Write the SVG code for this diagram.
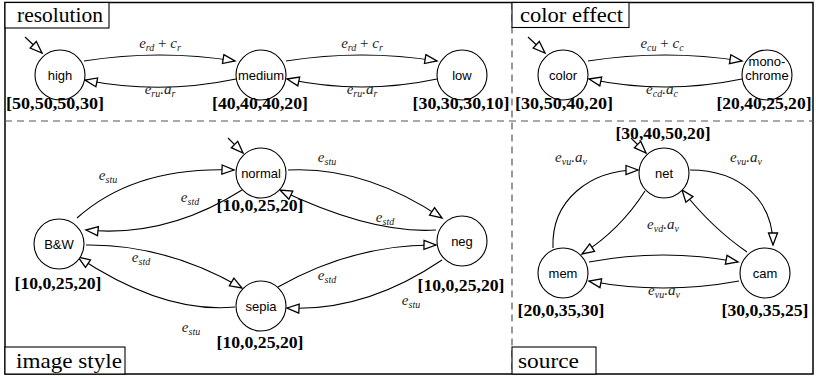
<svg xmlns="http://www.w3.org/2000/svg" width="816" height="378" viewBox="0 0 816 378">
<style>
.node{fill:#fff;stroke:#000;stroke-width:1.1}
.nt{font-family:"Liberation Sans","DejaVu Sans",sans-serif;font-size:13px;text-anchor:middle;fill:#000}
.val{font-family:"Liberation Serif","DejaVu Serif",serif;font-size:17px;font-weight:bold;text-anchor:middle;fill:#000}
.edge{fill:none;stroke:#000;stroke-width:1.1;marker-end:url(#arr)}
.lbl{font-family:"Liberation Serif","DejaVu Serif",serif;font-size:15px;font-style:italic;text-anchor:middle;fill:#222}
.s{font-size:10px}
.title{font-family:"Liberation Serif","DejaVu Serif",serif;font-size:21px;fill:#000}
.tbox{fill:#fff;stroke:#000;stroke-width:1.1}
.dash{stroke:#555;stroke-width:1.2;stroke-dasharray:7,5;fill:none}
</style>
<defs>
<marker id="arr" markerUnits="userSpaceOnUse" markerWidth="14" markerHeight="11" refX="12" refY="4.5" orient="auto" overflow="visible">
<path d="M0,0 L12,4.5 L0,9 Z" fill="#fff" stroke="#000" stroke-width="1.3"/>
</marker>
</defs>
<rect x="0" y="0" width="816" height="378" fill="#fff"/>
<rect x="5" y="2.5" width="808" height="371.5" fill="none" stroke="#000" stroke-width="1.5"/>
<line class="dash" x1="5" y1="121" x2="813" y2="121"/>
<line class="dash" x1="512" y1="2.5" x2="512" y2="374"/>

<g id="title-resolution"><rect class="tbox" x="5" y="2.5" width="104" height="25.5"/><text class="title" x="17" y="22" textLength="86" lengthAdjust="spacingAndGlyphs">resolution</text></g>
<g id="title-color"><rect class="tbox" x="512" y="2.5" width="117" height="25"/><text class="title" x="520" y="22" textLength="103" lengthAdjust="spacingAndGlyphs">color effect</text></g>
<g id="title-style"><rect class="tbox" x="5" y="347" width="120" height="27"/><text class="title" x="16" y="368" textLength="106" lengthAdjust="spacingAndGlyphs">image style</text></g>
<g id="title-source"><rect class="tbox" x="512" y="347" width="84" height="27"/><text class="title" x="518" y="368" textLength="61" lengthAdjust="spacingAndGlyphs">source</text></g>

<g id="connectors">
<line class="edge" x1="25" y1="37" x2="42" y2="53"/>
<line class="edge" x1="528" y1="37" x2="545" y2="53"/>
<line class="edge" x1="228" y1="138" x2="243" y2="153"/>
<line class="edge" x1="631" y1="138" x2="646" y2="153"/>
<path class="edge" d="M84,61 Q160,49 235,61"/>
<path class="edge" d="M236,79 Q160,95 85,80"/>
<path class="edge" d="M286,61 Q362,49 437,61"/>
<path class="edge" d="M437,79 Q362,95 287,79"/>
<path class="edge" d="M588,61 Q665,49 742,61"/>
<path class="edge" d="M742,79 Q665,95 589,79"/>
<path class="edge" d="M77,218 Q135,166 234,170"/>
<path class="edge" d="M242,190 Q166,238 86,230"/>
<path class="edge" d="M288,170 Q365,166 442,218"/>
<path class="edge" d="M436,230 Q372,234 280,190"/>
<path class="edge" d="M86,245 Q166,244 242,288"/>
<path class="edge" d="M235,307 Q164,314 78,257"/>
<path class="edge" d="M278,287 Q354,244 436,245"/>
<path class="edge" d="M442,260 Q365,312 287,308"/>
<path class="edge" d="M553,248 C551,200 590,170 638,170"/>
<path class="edge" d="M690,170 C740,170 773,200 773,245"/>
<path class="edge" d="M645,191 Q620,230 582,254"/>
<path class="edge" d="M747,252 Q712,228 682,190"/>
<path class="edge" d="M589,262 Q663,248 738,262"/>
<path class="edge" d="M739,281 Q663,295 589,281"/>
</g>

<g id="edge-labels">
<text class="lbl" x="160" y="48">e<tspan class="s" dy="3">rd</tspan><tspan dy="-3" font-style="normal"> + </tspan>c<tspan class="s" dy="3">r</tspan></text>
<text class="lbl" x="160" y="94">e<tspan class="s" dy="3">ru</tspan><tspan dy="-3">.a</tspan><tspan class="s" dy="3">r</tspan></text>
<text class="lbl" x="362" y="48">e<tspan class="s" dy="3">rd</tspan><tspan dy="-3" font-style="normal"> + </tspan>c<tspan class="s" dy="3">r</tspan></text>
<text class="lbl" x="362" y="94">e<tspan class="s" dy="3">ru</tspan><tspan dy="-3">.a</tspan><tspan class="s" dy="3">r</tspan></text>
<text class="lbl" x="662" y="48">e<tspan class="s" dy="3">cu</tspan><tspan dy="-3" font-style="normal"> + </tspan>c<tspan class="s" dy="3">c</tspan></text>
<text class="lbl" x="662" y="94">e<tspan class="s" dy="3">cd</tspan><tspan dy="-3">.a</tspan><tspan class="s" dy="3">c</tspan></text>
<text class="lbl" x="108" y="180">e<tspan class="s" dy="3">stu</tspan></text>
<text class="lbl" x="190" y="202">e<tspan class="s" dy="3">std</tspan></text>
<text class="lbl" x="327" y="162">e<tspan class="s" dy="3">stu</tspan></text>
<text class="lbl" x="385" y="222">e<tspan class="s" dy="3">std</tspan></text>
<text class="lbl" x="141" y="262">e<tspan class="s" dy="3">std</tspan></text>
<text class="lbl" x="191" y="332">e<tspan class="s" dy="3">stu</tspan></text>
<text class="lbl" x="327" y="280">e<tspan class="s" dy="3">std</tspan></text>
<text class="lbl" x="411" y="305">e<tspan class="s" dy="3">stu</tspan></text>
<text class="lbl" x="571" y="162">e<tspan class="s" dy="3">vu</tspan><tspan dy="-3">.a</tspan><tspan class="s" dy="3">v</tspan></text>
<text class="lbl" x="746" y="162">e<tspan class="s" dy="3">vu</tspan><tspan dy="-3">.a</tspan><tspan class="s" dy="3">v</tspan></text>
<text class="lbl" x="663" y="229">e<tspan class="s" dy="3">vd</tspan><tspan dy="-3">.a</tspan><tspan class="s" dy="3">v</tspan></text>
<text class="lbl" x="664" y="295">e<tspan class="s" dy="3">vu</tspan><tspan dy="-3">.a</tspan><tspan class="s" dy="3">v</tspan></text>
</g>

<g id="high"><circle class="node" cx="60" cy="75" r="25"/><text class="nt" x="60" y="80">high</text><text class="val" x="55" y="109" textLength="98" lengthAdjust="spacingAndGlyphs">[50,50,50,30]</text></g>
<g id="medium"><circle class="node" cx="261" cy="75" r="25"/><text class="nt" x="261" y="80">medium</text><text class="val" x="260" y="109" textLength="96" lengthAdjust="spacingAndGlyphs">[40,40,40,20]</text></g>
<g id="low"><circle class="node" cx="462" cy="75" r="25"/><text class="nt" x="462" y="80">low</text><text class="val" x="461" y="109" textLength="97" lengthAdjust="spacingAndGlyphs">[30,30,30,10]</text></g>
<g id="color"><circle class="node" cx="563" cy="75" r="25"/><text class="nt" x="563" y="80">color</text><text class="val" x="564" y="109" textLength="98" lengthAdjust="spacingAndGlyphs">[30,50,40,20]</text></g>
<g id="monochrome"><circle class="node" cx="767" cy="75" r="25"/><text class="nt" x="767" y="66">mono-</text><text class="nt" x="767" y="80">chrome</text><text class="val" x="764" y="109" textLength="95" lengthAdjust="spacingAndGlyphs">[20,40,25,20]</text></g>
<g id="normal"><circle class="node" cx="261" cy="173" r="25"/><text class="nt" x="261" y="178">normal</text><text class="val" x="260" y="211" textLength="87" lengthAdjust="spacingAndGlyphs">[10,0,25,20]</text></g>
<g id="bw"><circle class="node" cx="59" cy="244" r="25"/><text class="nt" x="59" y="249">B&amp;W</text><text class="val" x="58" y="289" textLength="87" lengthAdjust="spacingAndGlyphs">[10,0,25,20]</text></g>
<g id="neg"><circle class="node" cx="462" cy="241" r="25"/><text class="nt" x="462" y="246">neg</text><text class="val" x="461" y="291" textLength="87" lengthAdjust="spacingAndGlyphs">[10,0,25,20]</text></g>
<g id="sepia"><circle class="node" cx="261" cy="306" r="25"/><text class="nt" x="261" y="311">sepia</text><text class="val" x="260" y="348" textLength="87" lengthAdjust="spacingAndGlyphs">[10,0,25,20]</text></g>
<g id="net"><circle class="node" cx="664" cy="173" r="25"/><text class="nt" x="664" y="178">net</text><text class="val" x="663" y="139" textLength="95" lengthAdjust="spacingAndGlyphs">[30,40,50,20]</text></g>
<g id="mem"><circle class="node" cx="563" cy="273" r="25"/><text class="nt" x="563" y="278">mem</text><text class="val" x="561" y="316" textLength="87" lengthAdjust="spacingAndGlyphs">[20,0,35,30]</text></g>
<g id="cam"><circle class="node" cx="765" cy="273" r="25"/><text class="nt" x="765" y="278">cam</text><text class="val" x="765" y="316" textLength="87" lengthAdjust="spacingAndGlyphs">[30,0,35,25]</text></g>
</svg>
